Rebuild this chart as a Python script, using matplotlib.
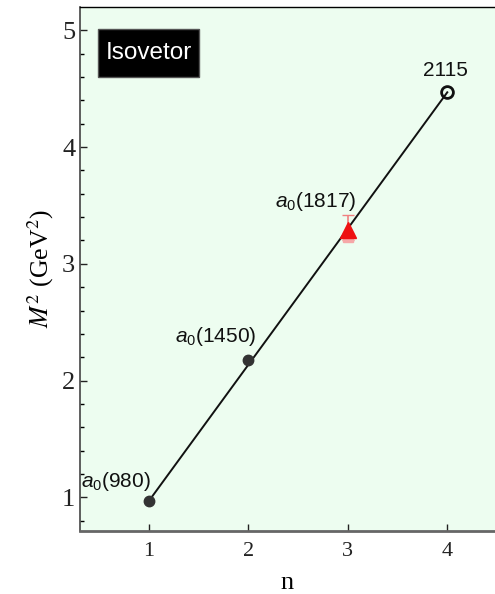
import matplotlib.pyplot as plt
from matplotlib.patches import Rectangle

# Regge trajectory of the isovector a0 states, M^2 against radial number n
n = [1, 2, 3, 4]
m2 = [0.97, 2.18, 3.29, 4.47]
names = ['$a_0$(980)', '$a_0$(1450)', '$a_0$(1817)', '2115']
m2_err_lo = [0.02, 0.03, 0.09, 0.0]
m2_err_hi = [0.02, 0.03, 0.13, 0.0]

fit_n = [1, 4]
fit_m2 = [0.97, 4.47]

serif = ['Liberation Serif', 'DejaVu Serif']
sans = ['Liberation Sans', 'DejaVu Sans']
plt.rcParams['mathtext.fontset'] = 'custom'
plt.rcParams['mathtext.rm'] = 'Liberation Sans'
plt.rcParams['mathtext.it'] = 'Liberation Sans:italic'

fig = plt.figure(figsize=(4.95, 5.94), dpi=100)
ax = fig.add_axes([0.1616, 0.106, 0.8384, 0.882])
ax.set_facecolor('#edfdf0')

ax.plot(fit_n, fit_m2, color='#111111', lw=1.4, zorder=2)

# measured states
ax.errorbar(n[:2], m2[:2], yerr=[m2_err_lo[:2], m2_err_hi[:2]], fmt='o',
            color='#333333', ms=7.5, capsize=2, elinewidth=1, zorder=3)
ax.errorbar([n[2]], [m2[2]], yerr=[[m2_err_lo[2]], [m2_err_hi[2]]], fmt='none',
            ecolor='#f08080', capsize=4, elinewidth=1.2, zorder=3)
ax.plot([n[2]], [m2[2] - 0.06], 's', color='#f6a8a8', ms=7, zorder=3)
ax.plot([n[2]], [m2[2]], '^', color='#ee1111', ms=11, zorder=4)
# predicted state
ax.plot([n[3]], [m2[3]], 'o', mfc='none', mec='#111111', mew=2, ms=8.5, zorder=4)

offsets = [(-0.68, 0.12), (-0.74, 0.15), (-0.73, 0.2), (-0.24, 0.14)]
for xi, yi, lab, (dx, dy) in zip(n, m2, names, offsets):
    ax.text(xi + dx, yi + dy, lab, fontsize=15, family=sans, color='#111111',
            ha='left', va='baseline')

ax.add_patch(Rectangle((0.043, 0.866), 0.244, 0.092, transform=ax.transAxes,
                       facecolor='black', edgecolor='#555555', lw=1, zorder=5))
ax.text(0.165, 0.912, 'Isovetor', transform=ax.transAxes, fontsize=17.5,
        family=sans, color='white', ha='center', va='center', zorder=6)

ax.set_xlim(0.305, 4.48)
ax.set_ylim(0.71, 5.2)
ax.set_xticks([1, 2, 3, 4])
ax.set_yticks([1, 2, 3, 4, 5])
ax.set_yticks([1.2, 1.4, 1.6, 1.8, 2.2, 2.4, 2.6, 2.8, 3.2, 3.4, 3.6, 3.8,
               4.2, 4.4, 4.6, 4.8, 0.8], minor=True)
ax.tick_params(direction='in', length=5, width=1, colors='#222222')
ax.tick_params(axis='x', labelsize=16, pad=8)
ax.tick_params(axis='y', labelsize=19)
ax.tick_params(which='minor', direction='in', length=3, width=1)
for lab in ax.get_xticklabels() + ax.get_yticklabels():
    lab.set_family(serif)

ax.spines['right'].set_visible(False)
ax.spines['left'].set_color('#444444')
ax.spines['bottom'].set_color('#666666')
ax.spines['bottom'].set_linewidth(2)
ax.spines['left'].set_linewidth(1.2)
ax.spines['top'].set_linewidth(1)

ax.set_xlabel('n', fontsize=19, family=serif, labelpad=8)
ax.set_ylabel(r'$M^2$ (GeV$^2$)', fontsize=18.5, family=serif, labelpad=4,
              math_fontfamily='stix')

fig.savefig('out.png', dpi=100)
